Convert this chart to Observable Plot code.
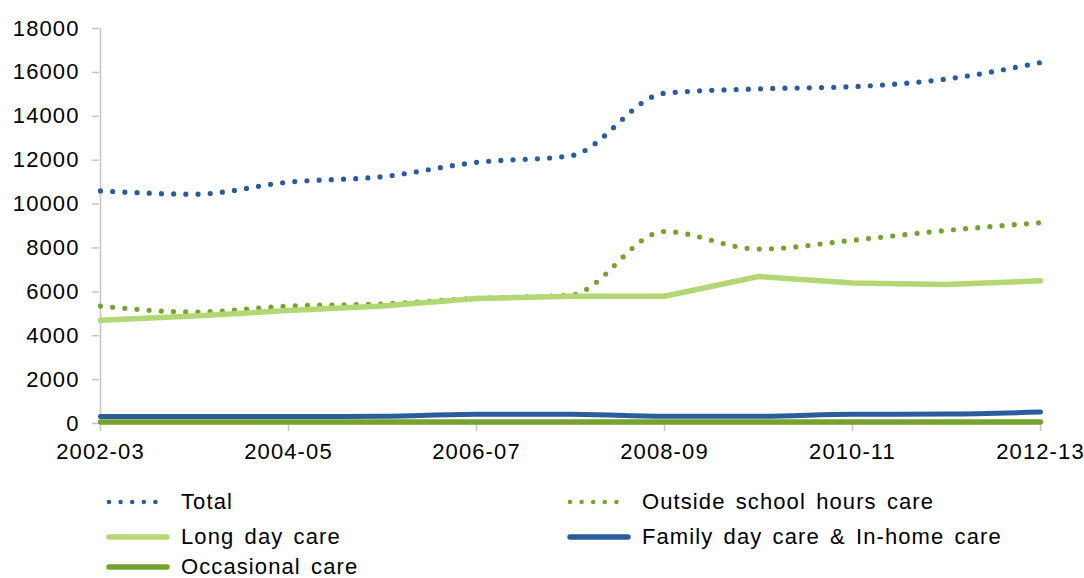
<!DOCTYPE html>
<html>
<head>
<meta charset="utf-8">
<script src="https://cdn.jsdelivr.net/npm/d3@7"></script>
<script src="https://cdn.jsdelivr.net/npm/@observablehq/plot@0.6"></script>
<style>
  body { margin: 0; background: #fff; font-family: "Liberation Sans", Arial, sans-serif; }
  #wrap { position: relative; width: 1084px; height: 578px; overflow: hidden; }
  #legend { position: absolute; left: 0; top: 0; width: 1084px; height: 578px; pointer-events: none; }
  .item { position: absolute; display: flex; align-items: center; font-size: 22px; letter-spacing: 1.1px; word-spacing: 3px; color: #000; white-space: nowrap; }
  .item svg { margin-right: 11px; }
  #chart svg text { letter-spacing: 1.1px; }
</style>
</head>
<body>
<div id="wrap">
  <div id="chart"></div>
  <div id="legend"></div>
</div>
<script>
const years = ["2002-03","2003-04","2004-05","2005-06","2006-07","2007-08","2008-09","2009-10","2010-11","2011-12","2012-13"];
const tickLabels = ["2002-03","2004-05","2006-07","2008-09","2010-11","2012-13"];
const yTicks = [0,2000,4000,6000,8000,10000,12000,14000,16000,18000];

const total = [10600,10450,11000,11250,11900,12200,15050,15250,15350,15700,16450];
const oshc  = [5350,5080,5350,5450,5700,5850,8750,7950,8350,8800,9150];
const ldc   = [4700,4900,5150,5350,5700,5800,5800,6700,6400,6330,6500];
const fdc   = [320,320,320,330,420,420,330,330,420,430,520];
const occ   = [70,70,70,70,70,70,70,70,70,70,70];

const seriesNames = ["Total","Outside school hours care","Long day care","Family day care & In-home care","Occasional care"];
const colors = ["#2a5b9b","#77a22f","#b3d775","#2b5d9c","#76a22e"];

const rows = (vals) => years.map((y, i) => ({year: y, value: vals[i]}));

const dotted = {strokeWidth: 5.2, strokeDasharray: "0 12.2", strokeLinecap: "round", curve: "monotone-x"};

const chart = Plot.plot({
  width: 1084,
  height: 470,
  marginLeft: 99,
  marginRight: 44,
  marginTop: 28,
  marginBottom: 47,
  style: {fontFamily: "'Liberation Sans', Arial, sans-serif", fontSize: "22px", background: "#fff"},
  x: {type: "point", domain: years, padding: 0},
  y: {domain: [0, 18000]},
  marks: [
    Plot.ruleX([years[0]], {y1: 0, y2: 18000, stroke: "#c4c4c4", strokeWidth: 1.5}),
    Plot.axisY(yTicks, {tickSize: 7, tickPadding: 13, tickFormat: d3.format("d"), stroke: "#c4c4c4", fill: "#000", fontSize: 22, label: null, strokeWidth: 1.5}),
    Plot.axisX(tickLabels, {tickSize: 8, tickPadding: 12, stroke: "#c4c4c4", fill: "#000", fontSize: 22, label: null, strokeWidth: 1.5}),
    Plot.line(rows(total), {x: "year", y: "value", stroke: colors[0], ...dotted}),
    Plot.line(rows(oshc), {x: "year", y: "value", stroke: colors[1], ...dotted}),
    Plot.line(rows(ldc), {x: "year", y: "value", stroke: colors[2], strokeWidth: 5.5}),
    Plot.line(rows(fdc), {x: "year", y: "value", stroke: colors[3], strokeWidth: 5, curve: "monotone-x"}),
    Plot.line(rows(occ), {x: "year", y: "value", stroke: colors[4], strokeWidth: 5.5})
  ]
});
document.getElementById("chart").appendChild(chart);

// legend
const legendPos = [[106, 502],[567, 502],[106, 537],[567, 537],[106, 567]];
const legend = document.getElementById("legend");
seriesNames.forEach((name, i) => {
  const [x, y] = legendPos[i];
  const div = document.createElement("div");
  div.className = "item";
  div.style.left = x + "px";
  div.style.top = (y - 13) + "px";
  div.style.height = "26px";
  const isDotted = i < 2;
  const sw = `<svg width="64" height="10"><line x1="3" y1="5" x2="61" y2="5" stroke="${colors[i]}" stroke-width="${isDotted ? 4.5 : 5.5}" ${isDotted ? 'stroke-dasharray="0 11.6" stroke-linecap="round"' : 'stroke-linecap="round"'}/></svg>`;
  div.innerHTML = sw + `<span>${name}</span>`;
  legend.appendChild(div);
});
</script>
</body>
</html>
